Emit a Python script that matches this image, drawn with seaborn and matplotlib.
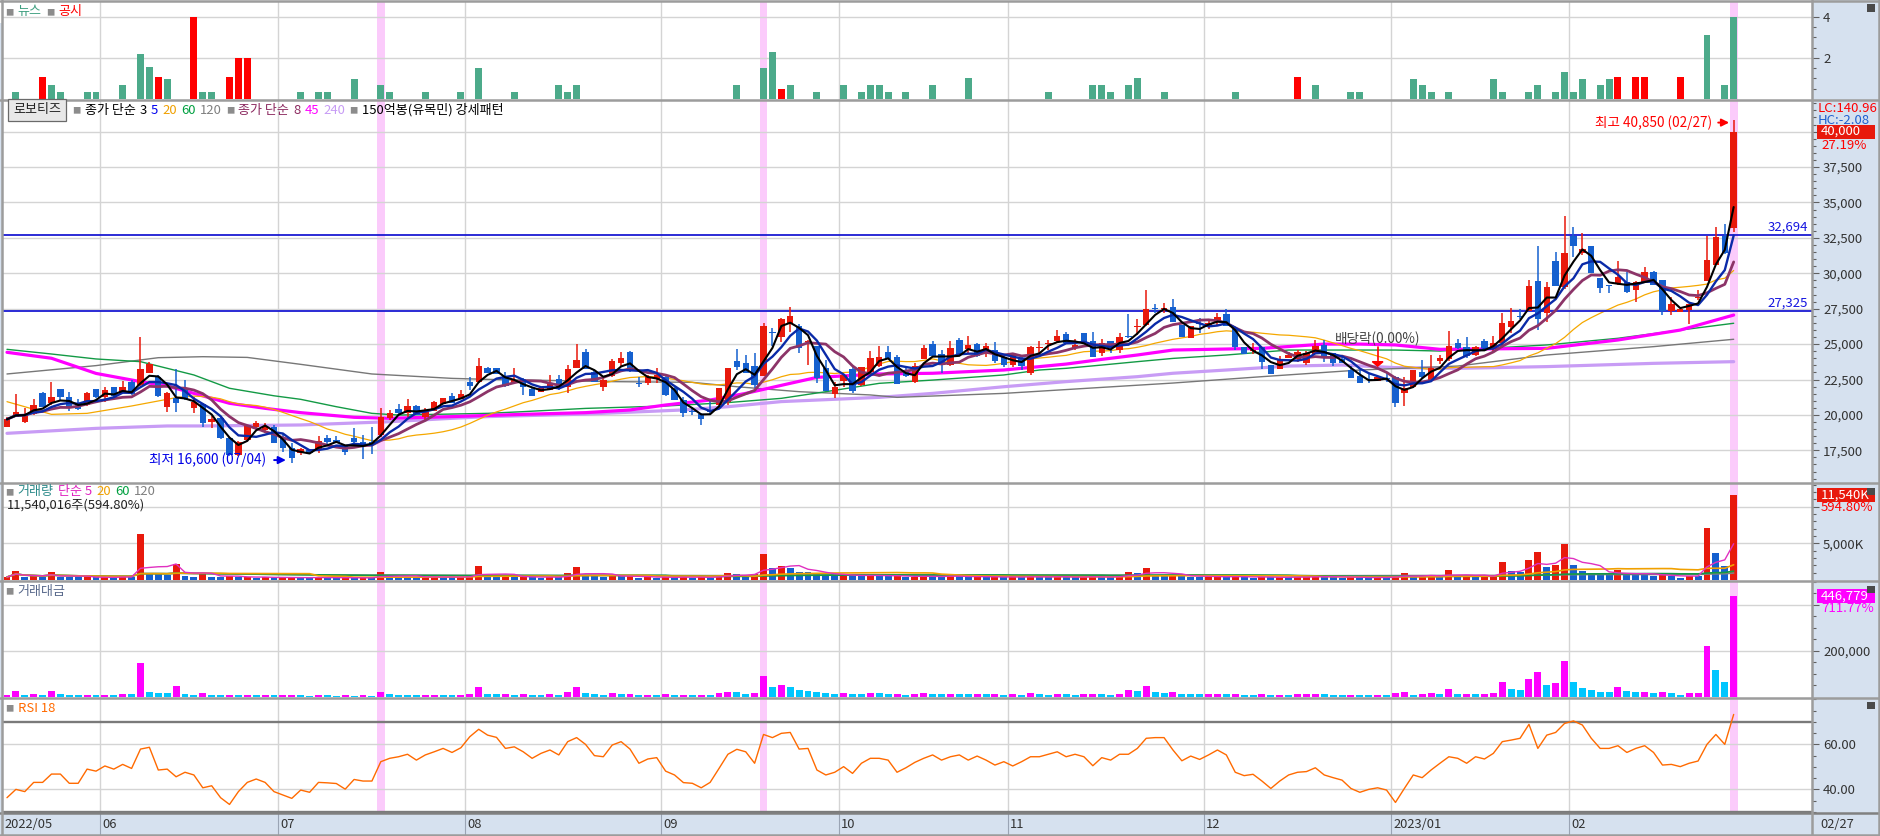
import numpy as np
import pandas as pd
import matplotlib
matplotlib.use("Agg")
import matplotlib.pyplot as plt
import matplotlib.transforms as mtransforms
from matplotlib.patches import Rectangle, Polygon
from matplotlib.lines import Line2D
from matplotlib.offsetbox import TextArea, HPacker, AnnotationBbox
import seaborn as sns

sns.set_theme(style="white")
FONT = ["Noto Sans CJK KR", "DejaVu Sans"]
plt.rcParams["font.family"] = FONT
plt.rcParams["axes.unicode_minus"] = False

# ---------------- data ----------------
opens = [19170,19880,19520,20040,21570,20820,21810,21240,20860,20700,
 21810,21240,21950,21570,22300,22110,22980,22650,20580,21170,
 21810,20470,20750,19520,19760,18350,17170,18230,19120,18940,
 19120,18350,17690,17290,17520,17600,18390,18250,17900,18350,
 18110,18110,18580,19760,20390,20160,20630,19830,20300,20770,
 21360,21100,22350,22350,23290,23290,22750,22230,22510,21830,
 21590,21760,22510,21950,23290,24440,23010,21990,22750,23690,
 24420,22230,22280,22510,22700,21880,21050,20250,20060,20250,
 20700,20940,23810,23640,23450,22750,25830,25520,26420,26280,
 25170,24870,23340,21480,22420,23220,22110,23000,23450,24440,
 24060,23050,22320,23920,25010,24300,23520,25290,24650,25010,
 24350,24580,24110,23520,24040,22980,24700,25030,25240,25710,
 24750,25760,25220,24400,25220,24580,25550,26180,26350,27480,
 27500,27640,26350,25410,26500,26230,26540,27120,26040,24820,
 24490,24820,23520,23240,23990,23950,23640,24300,24940,24350,
 23950,23170,22750,22520,22420,22600,22650,21520,21990,23050,
 22420,23830,23920,25110,24770,24230,25220,24630,25050,26230,
 26980,27360,29450,27220,30840,29050,32650,31410,31920,29640,
 29120,29290,29410,28820,29340,30070,29520,27360,27290,27410,
 28270,29450,30580,32650,33170]
highs = [19880,21480,20460,21100,21640,22350,21810,21640,21100,21640,
 21810,21990,21990,22420,22470,25480,23760,22820,21640,23240,
 22470,21290,20820,19920,19830,18420,18180,19290,19590,19410,
 19290,18700,17990,17640,17600,18510,18580,18510,17900,19050,
 18580,19170,20510,20350,20770,21120,20700,20510,20980,21170,
 21520,21760,22650,23990,23410,23290,23050,23290,22580,21950,
 21950,22820,22820,23520,25010,24650,23170,22700,23920,24470,
 24540,22650,22820,23290,22750,21990,21290,20580,20160,21100,
 21920,23290,24630,24230,24350,26470,26110,26820,27600,26420,
 25290,24870,23880,22350,22820,23410,23410,24540,24860,24860,
 24230,23410,23640,24940,25240,24580,25240,25410,25570,25060,
 25050,25170,24230,24350,24160,24860,25220,25290,25990,25880,
 25340,25760,25880,25340,25220,25800,27120,26750,28820,27830,
 27880,28160,26350,26280,26820,26650,27220,27450,26040,24820,
 25050,24820,23520,24160,24460,24580,24510,25290,25290,24350,
 24160,23450,23170,22980,22700,22930,22750,22650,23170,23880,
 24230,24230,25950,25340,25480,24900,25340,25570,27170,27520,
 27450,29520,31950,29410,31520,34040,33290,32820,31920,29640,
 29200,30890,30110,29440,30420,30140,29520,28350,27450,27850,
 28820,32630,33290,33480,40850]
lows = [19120,19830,19450,19990,20530,20700,21050,20300,20350,20630,
 21170,20940,21290,21520,21410,22040,22940,21240,20230,20230,
 21050,20160,19170,19050,18280,17100,17100,18180,19050,18700,
 17990,17410,16600,17170,17240,17290,17950,18000,17170,17990,
 16890,17240,18420,19640,20000,19830,19990,19640,20300,20770,
 20860,21100,21760,22230,22980,22890,21950,22230,21410,21360,
 21590,21760,21760,21570,23290,23240,22350,21710,22650,23410,
 23050,21990,22110,22230,21340,21050,19880,19990,19290,19990,
 20700,20700,23170,22980,21880,22750,24860,25170,25880,24350,
 23520,22280,21710,21220,21990,21570,22040,22980,23350,23920,
 22180,22700,22280,23920,24160,22940,23450,24300,24350,24060,
 24060,23690,23410,23360,23170,22820,24350,24580,25100,25050,
 24580,25170,24060,24160,24350,24400,25410,25640,26280,27220,
 27220,26580,25520,25410,25800,26040,26280,26280,24580,24300,
 24300,23240,22890,23240,23990,23760,23520,24300,23760,23450,
 23690,22580,22280,22280,22420,22350,20540,20650,21990,22510,
 22420,23590,23830,24650,23990,24160,24600,24540,24700,25760,
 26770,27360,26000,26580,29100,28870,31170,31290,30040,28640,
 28640,29170,28640,27990,29340,29170,27050,27050,27290,26420,
 28080,29450,30580,31360,32940]
closes = [19690,20230,20040,20700,20580,21240,21240,20470,20390,21520,
 21240,21760,21330,21990,21480,23240,23570,21330,21520,20860,
 21100,20940,19450,19690,18350,17170,18110,19220,19410,19120,
 18040,17640,16940,17600,17290,18160,18110,18020,17410,18110,
 17880,17950,19830,20110,20110,20630,19990,20350,20910,21170,
 20860,21450,22040,23450,22980,22890,22060,22470,21990,21360,
 21880,22230,21880,23220,23880,23250,22350,22470,23810,23990,
 23120,22200,22700,22820,21410,21050,20160,20230,19710,20200,
 21920,23290,23410,22980,22110,26270,25800,26750,26980,24700,
 25200,22580,21710,21990,22820,21710,23360,24000,24060,23920,
 22180,22750,23480,24700,24160,23520,24700,24300,24940,24160,
 24860,23830,23520,24230,23450,24820,24770,25080,25570,25050,
 24940,25170,24110,25050,24700,25480,25480,26280,27450,27450,
 27550,26580,25520,26280,26400,26470,26890,26280,24770,24300,
 24540,23760,22890,23880,24230,24420,24350,24860,24110,23690,
 23690,22580,22280,22480,22650,22560,20860,21880,23170,22700,
 23290,23990,24860,24700,24160,24820,24700,25050,26470,26630,
 26900,29100,26750,29010,29100,31410,31950,31690,30040,28940,
 29080,29760,28700,29360,30070,29170,27340,27830,27450,27810,
 28350,30940,32580,31450,40000]
volume_k = [400,1230,350,500,350,1100,450,400,350,400,
 350,380,330,550,450,6270,950,800,700,2180,
 600,450,900,450,350,500,400,450,300,350,
 300,350,400,300,250,400,300,280,320,250,
 350,260,1130,500,450,400,380,420,450,380,
 350,400,600,1900,600,450,500,400,450,350,
 300,450,400,910,1810,700,500,400,650,500,
 550,300,350,300,450,400,450,300,350,300,
 680,1000,800,500,800,3540,1680,1900,1570,1130,
 1040,820,700,600,650,600,550,700,600,500,
 550,400,450,600,500,450,550,500,400,450,
 400,450,350,450,350,600,400,350,500,400,
 350,450,500,400,350,550,1130,900,1630,700,
 600,700,500,450,400,450,500,400,550,350,
 300,450,350,400,350,400,450,550,500,350,
 300,400,350,300,350,300,700,910,360,450,
 680,450,1360,450,545,450,545,640,2410,1230,
 1090,2730,3770,1820,2050,4910,2050,1230,910,680,
 680,1360,910,680,680,545,770,545,270,545,
 545,7045,3640,1940,11540]
rsi18 = [36.3,40.0,39.0,43.1,43.1,46.8,46.8,42.7,42.7,49.0,
 48.1,50.4,49.0,51.1,49.3,57.9,58.7,48.6,49.0,45.6,
 47.6,46.4,40.7,41.6,36.3,33.3,39.0,43.1,44.6,43.1,
 39.0,37.5,36.0,39.7,38.7,43.1,42.9,42.6,40.1,44.4,
 43.7,43.7,52.3,53.8,54.5,55.6,53.0,55.3,56.7,58.2,
 56.4,58.5,63.4,66.7,64.1,63.1,58.2,58.9,56.7,53.8,
 56.0,57.5,55.3,61.2,63.0,60.0,55.0,54.5,59.7,61.2,
 57.9,51.6,53.5,54.1,48.1,46.4,43.0,42.7,40.7,43.1,
 49.3,55.6,57.8,56.7,51.6,64.4,63.0,64.9,65.3,57.9,
 58.2,48.6,46.4,47.6,50.1,47.1,51.6,53.8,53.8,53.0,
 47.6,49.6,52.0,53.8,55.3,53.0,54.5,55.3,53.0,54.8,
 53.0,50.8,52.3,50.4,52.3,54.5,54.5,55.6,56.7,54.5,
 55.6,54.5,50.5,54.1,53.0,55.6,55.6,58.2,62.7,63.0,
 63.0,57.5,52.7,54.8,53.3,55.3,57.5,55.3,47.6,46.1,
 46.7,43.7,40.4,43.7,46.4,47.6,47.9,49.6,46.4,45.2,
 44.1,40.4,38.7,40.0,40.7,39.7,34.2,40.4,46.4,45.2,
 48.6,51.6,54.5,53.8,51.6,54.5,53.5,56.0,61.2,61.9,
 62.7,68.9,58.2,64.1,65.3,69.3,70.4,68.6,62.7,58.2,
 58.2,59.4,56.4,58.2,59.4,56.4,50.8,51.1,50.1,51.6,
 52.6,60.0,64.4,60.0,73.3]

news_idx = [1,5,6,9,10,13,15,16,18,22,23,33,35,36,39,42,43,47,51,53,57,62,63,64,82,85,86,88,91,94,
 96,97,98,99,101,104,108,117,122,123,124,126,127,130,138,147,151,152,158,159,160,162,167,168,171,
 172,174,175,176,177,179,180,191,193,194]
news_val = [0.33,0.67,0.33,0.33,0.33,0.67,2.2,1.55,0.95,0.33,0.33,0.33,0.33,0.33,0.95,0.67,0.33,0.33,
 0.33,1.5,0.33,0.67,0.33,0.67,0.67,1.5,2.3,0.67,0.33,0.67,0.33,0.67,0.67,0.33,0.33,0.67,1.0,0.33,
 0.67,0.67,0.33,0.67,1.0,0.33,0.33,0.67,0.33,0.33,0.95,0.67,0.33,0.33,0.95,0.33,0.33,0.67,0.33,
 1.3,0.33,0.95,0.67,0.95,3.1,0.67,4.0]
disc_idx = [4,17,21,25,26,27,87,145,181,183,184,188]
disc_val = [1.05,1.05,4.0,1.05,2.0,2.0,0.5,1.05,1.05,1.05,1.05,1.05]

# moving-average readings where history before the first candle is needed
ma20_head_idx = [0, 5, 9, 14]
ma20_head_val = [20935, 20040, 20110, 20630]
ma45_idx = [0,5,10,15,18,21,25,29,33,39,43,50,58,65,70,74,79,83,88,91,98,104,112,116,119,123,127,131,141,148,152,156,161,173,181,188,194]
ma45_val = [24420,24000,22930,22350,22040,21520,20820,20465,20160,19830,19760,19880,20040,20160,20350,20700,21050,21520,22230,22650,22890,22940,23170,23410,23590,23920,24230,24580,24700,25000,25000,24940,24630,24700,25290,25990,27050]
ma60_idx = [0,5,10,15,21,25,30,33,37,41,44,54,58,65,74,81,87,92,98,104,112,116,119,123,127,131,137,144,156,161,173,181,188,194]
ma60_val = [24630,24300,23950,23760,22820,21880,21350,21100,20580,20110,19990,20110,20230,20460,20630,20870,21170,21640,22230,22460,22820,23170,23290,23520,23760,23990,24230,24580,24580,24510,24940,25410,25990,26470]
ma120_idx = [0,10,17,22,27,33,41,50,54,68,77,82,89,97,100,112,131,141,152,163,173,185,194]
ma120_val = [22890,23480,24040,24110,24060,23570,22890,22580,22510,22350,22300,21990,21640,21410,21240,21520,22250,22700,23170,23450,24230,24820,25340]
ma240_idx = [0,10,18,22,33,43,50,54,65,76,81,87,98,104,112,119,127,131,137,144,150,156,163,173,185,194]
ma240_val = [18700,19050,19220,19220,19290,19520,19760,19880,20060,20350,20580,20940,21240,21520,21990,22350,22700,22940,23170,23450,23520,23340,23290,23410,23640,23760]

highlight_idx = [42, 85, 194]
exdiv_idx = 154
level_lines = [32694, 27325]
month_labels = ["2022/05", "06", "07", "08", "09", "10", "11", "12", "2023/01", "02"]
month_start_idx = [0, 11, 31, 52, 74, 94, 113, 135, 156, 176]
last_date_label = "02/27"
price_ticks = [17500, 20000, 22500, 25000, 27500, 30000, 32500, 35000, 37500, 40000]
vol_total_text = "11,540,016주(594.80%)"
vol_pct_text = "594.80%"
amt_last_text = "446,779"
amt_pct_text = "711.77%"
lc_text, hc_text = "LC:140.96", "HC:-2.08"

# ---------------- layout ----------------
W, H = 1880, 836
PLOT_L, PLOT_R = 2, 1812
XL = (-0.56, 202.8)
RED, BLUE = "#e8190c", "#1560cf"
MAG, CYAN = "#ff00ff", "#00c6ff"
GRID = "#d4d4d4"
BAND = "#d6e1ef"
PINK = "#fbcbfb"

def fx(px): return px / W
def fy(py): return 1 - py / H
def d2px(xd): return PLOT_L + (xd - XL[0]) * (PLOT_R - PLOT_L) / (XL[1] - XL[0])

o = np.array(opens, float); h = np.array(highs, float)
l = np.array(lows, float); c = np.array(closes, float)
vol = np.array(volume_k, float)
n = len(c)
x = np.arange(n)
grid_x = [m - 0.5 for m in month_start_idx[1:]]

fig = plt.figure(figsize=(W / 100, H / 100), dpi=100)
fig.patch.set_facecolor("white")
fig.add_artist(Rectangle((fx(PLOT_R), 0), 1 - fx(PLOT_R), 1, transform=fig.transFigure,
                         facecolor=BAND, edgecolor="none", zorder=-5))
fig.add_artist(Rectangle((0, 0), 1, 1 - fy(813), transform=fig.transFigure,
                         facecolor=BAND, edgecolor="none", zorder=-5))

def make_ax(y0, y1, ylim):
    ax = fig.add_axes([fx(PLOT_L), fy(y1), fx(PLOT_R) - fx(PLOT_L), (y1 - y0) / H])
    ax.set_facecolor("white")
    ax.set_xlim(*XL)
    ax.set_ylim(*ylim)
    for s in ax.spines.values():
        s.set_visible(False)
    ax.tick_params(axis="x", which="both", bottom=False, labelbottom=False)
    ax.yaxis.tick_right()
    ax.tick_params(axis="y", which="both", direction="out", colors="#606060",
                   labelcolor="#333333", labelsize=9.5, pad=3, width=0.8)
    ax.tick_params(axis="y", which="major", length=5)
    ax.tick_params(axis="y", which="minor", length=3)
    for gx in grid_x:
        ax.axvline(gx, color=GRID, lw=1, zorder=0.5)
    for hi in highlight_idx:
        ax.axvspan(hi - 0.43, hi + 0.43, color=PINK, lw=0, zorder=0.3)
    ax.set_xlabel(""); ax.set_ylabel("")
    return ax

def set_ticks(ax, major, labels, minor):
    ax.set_yticks(major)
    ax.set_yticklabels(labels)
    ax.set_yticks(minor, minor=True)
    for v in major:
        ax.axhline(v, color=GRID, lw=1, zorder=0.5)

# ---- news / disclosure panel ----
ax_n = make_ax(2, 100, (-0.05, 4.73))
set_ticks(ax_n, [2, 4], ["2", "4"], [0.5, 1, 1.5, 2.5, 3, 3.5])
ax_n.bar(news_idx, news_val, width=0.78, color="#4caa8a", lw=0, zorder=2)
ax_n.bar(disc_idx, disc_val, width=0.78, color="#ff0000", lw=0, zorder=2)

# ---- price panel ----
ax_p = make_ax(100, 483, (15193, 42233))
set_ticks(ax_p, price_ticks, [f"{v:,}" for v in price_ticks[:-1]] + [""],
          np.arange(15500, 42001, 500))
for lv in level_lines:
    ax_p.axhline(lv, color="#1a1ad2", lw=1.3, zorder=2.5)
    ax_p.text(XL[1] - 0.45, lv, f"{lv:,}", ha="right", va="bottom", color="#1414e0",
              fontsize=9.5, zorder=6,
              transform=mtransforms.offset_copy(ax_p.transData, fig=fig, y=1.5, units="dots"))

def ma_roll(k):
    return pd.Series(c).rolling(k, min_periods=1).mean().values

ma20_full = pd.Series(c).rolling(20).mean()
ma20_x = list(ma20_head_idx) + list(x[19:])
ma20_y = list(ma20_head_val) + list(ma20_full.values[19:])

sns.lineplot(x=ma240_idx, y=ma240_val, ax=ax_p, color="#c89cf5", linewidth=2.3, legend=False, zorder=2)
sns.lineplot(x=ma120_idx, y=ma120_val, ax=ax_p, color="#777777", linewidth=1.0, legend=False, zorder=2)
sns.lineplot(x=ma60_idx, y=ma60_val, ax=ax_p, color="#139a45", linewidth=1.0, legend=False, zorder=2)
sns.lineplot(x=ma45_idx, y=ma45_val, ax=ax_p, color="#ff00ff", linewidth=2.3, legend=False, zorder=2)
sns.lineplot(x=ma20_x, y=ma20_y, ax=ax_p, color="#f5a800", linewidth=0.9, legend=False, zorder=2)

up = c >= o
col = np.where(up, RED, BLUE)
ax_p.vlines(x, l, h, colors=col, lw=1.1, zorder=3)
ax_p.bar(x, np.maximum(np.abs(c - o), 70), bottom=np.minimum(o, c), width=0.72,
         color=col, lw=0, zorder=4)

sns.lineplot(x=x, y=ma_roll(8), ax=ax_p, color="#8c3468", linewidth=2.0, legend=False, zorder=5)
sns.lineplot(x=x, y=ma_roll(5), ax=ax_p, color="#0a2aa8", linewidth=1.7, legend=False, zorder=5)
sns.lineplot(x=x, y=ma_roll(3), ax=ax_p, color="#000000", linewidth=1.5, legend=False, zorder=5)
ax_p.set_xlim(*XL); ax_p.set_ylim(15193, 42233)
ax_p.set_xlabel(""); ax_p.set_ylabel("")

# highest / lowest annotations
hi_i = int(np.argmax(h)); lo_i = int(np.argmin(l))
ppx = 70.6  # price units per pixel
ax_p.text(hi_i - 2.45, h[hi_i] - 3 * ppx, f"최고 {int(h[hi_i]):,} (02/27)", ha="right", va="center",
          color="#ff0000", fontsize=9.8, zorder=7)
ax_p.annotate("", xy=(hi_i - 0.2, h[hi_i] - 3 * ppx), xytext=(hi_i - 2.05, h[hi_i] - 3 * ppx),
              arrowprops=dict(arrowstyle="-|>", color="#ff0000", lw=1.4, mutation_scale=11), zorder=7)
ax_p.text(lo_i - 2.85, l[lo_i] + 3 * ppx, f"최저 {int(l[lo_i]):,} (07/04)", ha="right", va="center",
          color="#0000e6", fontsize=9.8, zorder=7)
ax_p.annotate("", xy=(lo_i - 0.35, l[lo_i] + 3 * ppx), xytext=(lo_i - 2.3, l[lo_i] + 3 * ppx),
              arrowprops=dict(arrowstyle="-|>", color="#0000e6", lw=1.4, mutation_scale=11), zorder=7)

# ex-dividend marker
eh = h[exdiv_idx]
ax_p.text(exdiv_idx, eh + 37.7 * ppx, "배당락(0.00%)", ha="center", va="center", color="#444444",
          fontsize=9.8, zorder=7)
ax_p.plot([exdiv_idx, exdiv_idx], [eh + 30 * ppx, eh + 15 * ppx], color="#ff0000", lw=1.2, zorder=7)
ax_p.add_patch(Polygon([[exdiv_idx - 0.6, eh + 15 * ppx], [exdiv_idx + 0.6, eh + 15 * ppx],
                        [exdiv_idx, eh + 10.5 * ppx]], closed=True, color="#ff0000", zorder=7))

# right side price labels
tp = mtransforms.blended_transform_factory(fig.transFigure, ax_p.transData)
ax_p.add_patch(Rectangle((fx(1817), c[-1] - 7 * ppx), fx(1875) - fx(1817), 14 * ppx,
                         transform=tp, facecolor="#e8190c", edgecolor="none", clip_on=False, zorder=8))
ax_p.text(fx(1821), c[-1], f"{int(c[-1]):,}", transform=tp, color="white", fontsize=9.5,
          va="center", ha="left", clip_on=False, zorder=9)
ax_p.text(fx(1821), c[-1], f"{(c[-1] / c[-2] - 1) * 100:.2f}%",
          transform=mtransforms.offset_copy(tp, fig=fig, y=-14, units="dots"),
          color="#ff0000", fontsize=9.5, va="center", ha="left", clip_on=False, zorder=9)
fig.text(fx(1818), fy(108), lc_text, color="#ff0000", fontsize=9.5, va="center", ha="left")
fig.text(fx(1818), fy(120), hc_text, color="#1e5fd0", fontsize=9.5, va="center", ha="left")

# ---- volume panel ----
vmax_px = 5000 / 36.7
ax_v = make_ax(483, 581, (-1 * vmax_px, 97 * vmax_px))
set_ticks(ax_v, [5000, 10000], ["5,000K", ""], np.arange(1000, 13001, 1000))
vcol = [RED] + [RED if vol[i] > vol[i - 1] else BLUE for i in range(1, n)]
ax_v.bar(x, vol, width=0.78, color=vcol, lw=0, zorder=2)
for k, cc, lw in [(120, "#808080", 1.2), (60, "#139a45", 1.2), (20, "#f0a000", 1.2), (5, "#e030c0", 1.0)]:
    sns.lineplot(x=x, y=pd.Series(vol).rolling(k, min_periods=1).mean().values, ax=ax_v,
                 color=cc, linewidth=lw, legend=False, zorder=3)
ax_v.set_xlim(*XL); ax_v.set_ylim(-1 * vmax_px, 97 * vmax_px)
ax_v.set_xlabel(""); ax_v.set_ylabel("")
tv = mtransforms.blended_transform_factory(fig.transFigure, ax_v.transData)
ax_v.add_patch(Rectangle((fx(1817), vol[-1] - 7 * vmax_px), fx(1875) - fx(1817), 14 * vmax_px,
                         transform=tv, facecolor="#e8190c", edgecolor="none", clip_on=False, zorder=8))
ax_v.text(fx(1821), vol[-1], f"{int(vol[-1]):,}K", transform=tv, color="white", fontsize=9.5,
          va="center", ha="left", clip_on=False, zorder=9)
ax_v.text(fx(1821), vol[-1], vol_pct_text,
          transform=mtransforms.offset_copy(tv, fig=fig, y=-12.5, units="dots"),
          color="#ff0000", fontsize=9.5, va="center", ha="left", clip_on=False, zorder=9)

# ---- trading value panel ----
amt = vol * (h + l + c) / 3 / 1000.0
apx = 200000 / 46.0
ax_a = make_ax(581, 698, (-1.3 * apx, 115.7 * apx))
set_ticks(ax_a, [200000, 400000], ["200,000", ""], np.arange(50000, 500001, 50000))
acol = [MAG] + [MAG if amt[i] > amt[i - 1] else CYAN for i in range(1, n)]
ax_a.bar(x, amt, width=0.78, color=acol, lw=0, zorder=2)
ta = mtransforms.blended_transform_factory(fig.transFigure, ax_a.transData)
ax_a.add_patch(Rectangle((fx(1817), amt[-1] - 7 * apx), fx(1875) - fx(1817), 14 * apx,
                         transform=ta, facecolor="#ff00ff", edgecolor="none", clip_on=False, zorder=8))
ax_a.text(fx(1821), amt[-1], amt_last_text, transform=ta, color="white", fontsize=9.5,
          va="center", ha="left", clip_on=False, zorder=9)
ax_a.text(fx(1821), amt[-1], amt_pct_text,
          transform=mtransforms.offset_copy(ta, fig=fig, y=-12.5, units="dots"),
          color="#ff00ff", fontsize=9.5, va="center", ha="left", clip_on=False, zorder=9)

# ---- RSI panel ----
ax_r = make_ax(698, 813, (29.5, 80.6))
set_ticks(ax_r, [40, 60], ["40.00", "60.00"], [30, 35, 45, 50, 55, 65, 70, 75, 80])
ax_r.axhline(70, color="#7a7a7a", lw=1.7, zorder=1)
ax_r.axhline(30, color="#7a7a7a", lw=1.7, zorder=1)
sns.lineplot(x=x, y=rsi18, ax=ax_r, color="#ff6a00", linewidth=1.0, legend=False, zorder=3)
ax_r.set_xlim(*XL); ax_r.set_ylim(29.5, 80.6)
ax_r.set_xlabel(""); ax_r.set_ylabel("")

# ---- x axis band ----
for lab, m in zip(month_labels, month_start_idx):
    px = PLOT_L + 2 if m == 0 else d2px(m - 0.5) + 2
    fig.text(fx(px), fy(825), lab, fontsize=9.3, color="#333333", va="center", ha="left")
    if m != 0:
        fig.add_artist(Line2D([fx(px - 2)] * 2, [fy(813), fy(836)], transform=fig.transFigure,
                              color="#9aa4b4", lw=0.8))
fig.text(fx(1820), fy(825), last_date_label, fontsize=9.3, color="#333333", va="center", ha="left")

# ---- separators / frame ----
def fline(xs, ys, color="#9c9c9c", lw=1.8):
    fig.add_artist(Line2D([fx(v) for v in xs], [fy(v) for v in ys], transform=fig.transFigure,
                          color=color, lw=lw, zorder=30))
for yy in [100, 483, 581, 698]:
    fline([0, W], [yy, yy])
fline([0, W], [813, 813], color="#808080")
fline([PLOT_R, PLOT_R], [0, 836])
fline([1.5, 1.5], [0, 836]); fline([0, W], [1.2, 1.2])
fline([W - 1, W - 1], [0, 836]); fline([0, W], [835, 835])
for yy in [8, 491, 589, 705]:
    fig.add_artist(Rectangle((fx(1867), fy(yy + 3.5)), 8 / W, 7 / H, transform=fig.transFigure,
                             facecolor="#4a4a4a", edgecolor="none", zorder=31))

# ---- legend rows ----
SQ = ("■", "#8c8c8c", 6)
def row(px, py, items, size=9.4, sep=3):
    boxes = []
    for it in items:
        t, cc = it[0], it[1]
        s = it[2] if len(it) > 2 else size
        boxes.append(TextArea(t, textprops=dict(color=cc, fontsize=s, family=FONT)))
    pack = HPacker(children=boxes, align="baseline", pad=0, sep=sep)
    ab = AnnotationBbox(pack, (fx(px), fy(py)), xycoords="figure fraction", box_alignment=(0, 0.5),
                        frameon=False, pad=0, zorder=40)
    fig.add_artist(ab)

row(5, 12, [SQ, ("뉴스", "#3f9f80"), SQ, ("공시", "#ff0000")])
btn = AnnotationBbox(TextArea("로보티즈", textprops=dict(color="#222222", fontsize=9.4, family=FONT)),
                     (fx(13), fy(110)), xycoords="figure fraction", box_alignment=(0, 0.5),
                     frameon=True, pad=0.25, zorder=40,
                     bboxprops=dict(facecolor="#e8e8e8", edgecolor="#6a6a6a", lw=0.9, boxstyle="square,pad=0.3"))
fig.add_artist(btn)
row(72, 110, [SQ, ("종가 단순", "#000000"), ("3", "#000000"), ("5", "#0000ee"), ("20", "#f0a000"),
              ("60", "#00a040"), ("120", "#808080"), SQ, ("종가 단순", "#8c2a60"), ("8", "#8c2a60"),
              ("45", "#ff00ff"), ("240", "#c79cf5"), SQ, ("150억봉(유목민) 강세패턴", "#000000")])
row(5, 492, [SQ, ("거래량", "#2e8b8b"), ("단순 5", "#e020c0"), ("20", "#f0a000"), ("60", "#00a040"),
             ("120", "#808080")])
row(7, 505, [(vol_total_text, "#222222")])
row(5, 591, [SQ, ("거래대금", "#5a6a8c")])
row(5, 708, [SQ, ("RSI 18", "#ff6a00")])

fig.savefig("out.png", dpi=100, facecolor="white")
